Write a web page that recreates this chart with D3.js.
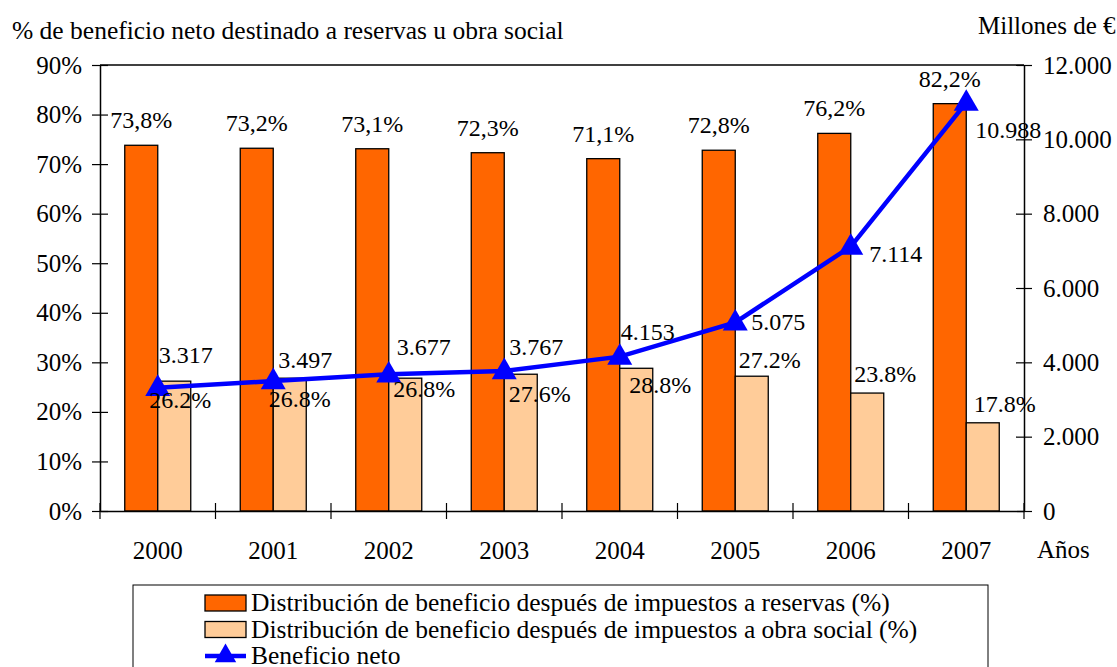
<!DOCTYPE html>
<html>
<head>
<meta charset="utf-8">
<script src="https://cdn.jsdelivr.net/npm/d3@7"></script>
<style>
  body { margin: 0; background: #fff; overflow: hidden; }
  svg text { fill: #000; }
</style>
</head>
<body>
<div id="chart"></div>
<script>
// Data
var years = ["2000", "2001", "2002", "2003", "2004", "2005", "2006", "2007"];
var reservas = [73.8, 73.2, 73.1, 72.3, 71.1, 72.8, 76.2, 82.2];
var obraSocial = [26.2, 26.8, 26.8, 27.6, 28.8, 27.2, 23.8, 17.8];
var beneficio = [3317, 3497, 3677, 3767, 4153, 5075, 7114, 10988];
var leftTicks = [0, 10, 20, 30, 40, 50, 60, 70, 80, 90];
var rightTicks = [0, 2000, 4000, 6000, 8000, 10000, 12000];

// hand-placed label nudges (as in the original)
var obraLabelOff = [[6, 27], [10, 29], [19, 19], [19, 28], [24, 25], [18, -8], [18, -11], [22, -11]];
var lineLabelOff = [[28, -25], [32, -13], [35, -19], [32, -16], [28, -17], [43, 8], [45, 15], [42, 35]];

var FONT = "'Liberation Serif', 'DejaVu Serif', serif";

var svgWidth = 1117, svgHeight = 667;
var margin = { top: 65, right: 93, bottom: 156, left: 100 };
var chartWidth = svgWidth - margin.left - margin.right;
var chartHeight = svgHeight - margin.top - margin.bottom;

var svg = d3.select("#chart").append("svg")
  .attr("width", svgWidth)
  .attr("height", svgHeight)
  .attr("font-family", FONT);

var g = svg.append("g").attr("transform", `translate(${margin.left}, ${margin.top})`);

var x0 = d3.scaleBand().domain(years).range([0, chartWidth]);
var x1 = d3.scaleBand().domain(["res", "obra"]).range([0, x0.bandwidth()]).paddingInner(0).paddingOuter(0.75);
var yLeft = d3.scaleLinear().domain([0, 90]).range([chartHeight, 0]);
var yRight = d3.scaleLinear().domain([0, 12000]).range([chartHeight, 0]);

var fmtThousands = d3.formatLocale({ decimal: ",", thousands: ".", grouping: [3], currency: ["", "€"] }).format(",");

// top border
g.append("line").attr("x1", 0).attr("x2", chartWidth).attr("y1", 0).attr("y2", 0)
  .attr("stroke", "#000").attr("stroke-width", 1.5);

// bars
var rows = years.map(function(y, i) { return { year: y, res: reservas[i], obra: obraSocial[i], ben: beneficio[i], i: i }; });

g.selectAll(".bar-res").data(rows).enter().append("rect")
  .attr("x", function(d) { return x0(d.year) + x1("res"); })
  .attr("y", function(d) { return yLeft(d.res); })
  .attr("width", x1.bandwidth())
  .attr("height", function(d) { return chartHeight - yLeft(d.res); })
  .attr("fill", "#FF6600").attr("stroke", "#000").attr("stroke-width", 1.3);

g.selectAll(".bar-obra").data(rows).enter().append("rect")
  .attr("x", function(d) { return x0(d.year) + x1("obra"); })
  .attr("y", function(d) { return yLeft(d.obra); })
  .attr("width", x1.bandwidth())
  .attr("height", function(d) { return chartHeight - yLeft(d.obra); })
  .attr("fill", "#FFCC99").attr("stroke", "#000").attr("stroke-width", 1.3);

// line
var cx = function(d) { return x0(d.year) + x0.bandwidth() / 2; };
var line = d3.line().x(cx).y(function(d) { return yRight(d.ben); });

g.append("path").datum(rows).attr("d", line)
  .attr("fill", "none").attr("stroke", "#0000FF").attr("stroke-width", 4.5);

var tri = d3.symbol().type(d3.symbolTriangle).size(270);
g.selectAll(".mark").data(rows).enter().append("path")
  .attr("d", tri)
  .attr("transform", function(d) { return `translate(${cx(d)}, ${yRight(d.ben) + 1})`; })
  .attr("fill", "#0000FF");

// labels
var fs = "24px";
g.selectAll(".lab-res").data(rows).enter().append("text")
  .attr("x", function(d) { return x0(d.year) + x1("res") + x1.bandwidth() / 2; })
  .attr("y", function(d) { return yLeft(d.res) - 17; })
  .attr("text-anchor", "middle").attr("font-size", fs).attr("font-family", FONT)
  .text(function(d) { return d.res.toFixed(1).replace(".", ",") + "%"; });

g.selectAll(".lab-obra").data(rows).enter().append("text")
  .attr("x", function(d) { return x0(d.year) + x1("obra") + x1.bandwidth() / 2 + obraLabelOff[d.i][0]; })
  .attr("y", function(d) { return yLeft(d.obra) + obraLabelOff[d.i][1]; })
  .attr("text-anchor", "middle").attr("font-size", fs).attr("font-family", FONT)
  .text(function(d) { return d.obra.toFixed(1) + "%"; });

g.selectAll(".lab-ben").data(rows).enter().append("text")
  .attr("x", function(d) { return cx(d) + lineLabelOff[d.i][0]; })
  .attr("y", function(d) { return yRight(d.ben) + lineLabelOff[d.i][1]; })
  .attr("text-anchor", "middle").attr("font-size", fs).attr("font-family", FONT)
  .text(function(d) { return fmtThousands(d.ben); });

// axes
var leftAxis = d3.axisLeft(yLeft).tickValues(leftTicks).tickSize(0).tickPadding(18)
  .tickFormat(function(d) { return d + "%"; });
var rightAxis = d3.axisRight(yRight).tickValues(rightTicks).tickSize(0).tickPadding(19)
  .tickFormat(function(d) { return d === 0 ? "0" : fmtThousands(d); });
var bottomAxis = d3.axisBottom(x0).tickSize(0).tickPadding(30);

function styleAxis(sel) {
  sel.attr("font-family", FONT);
  sel.select(".domain").attr("stroke", "#000").attr("stroke-width", 1.5);
  sel.selectAll("text").attr("font-size", "25px").attr("font-family", FONT);
}

var gl = g.append("g").call(leftAxis).call(styleAxis);
gl.selectAll(".tick").append("line").attr("x1", -8).attr("x2", 8).attr("stroke", "#000").attr("stroke-width", 1.2);

var gr = g.append("g").attr("transform", `translate(${chartWidth}, 0)`).call(rightAxis).call(styleAxis);
gr.selectAll(".tick").append("line").attr("x1", -8).attr("x2", 8).attr("stroke", "#000").attr("stroke-width", 1.2);

var gb = g.append("g").attr("transform", `translate(0, ${chartHeight})`).call(bottomAxis).call(styleAxis);
gb.selectAll(".tick text").attr("dy", "0.71em");
// category boundary ticks
gb.selectAll(".sep").data(d3.range(years.length + 1)).enter().append("line")
  .attr("x1", function(i) { return i * x0.step(); })
  .attr("x2", function(i) { return i * x0.step(); })
  .attr("y1", -8).attr("y2", 8)
  .attr("stroke", "#000").attr("stroke-width", 1.2);

// titles
svg.append("text").attr("x", 12).attr("y", 39).attr("font-size", "25.5px").attr("font-family", FONT)
  .text("% de beneficio neto destinado a reservas u obra social");
svg.append("text").attr("x", 978).attr("y", 34).attr("font-size", "25px").attr("font-family", FONT)
  .text("Millones de €");
svg.append("text").attr("x", 1037).attr("y", 558).attr("font-size", "25px").attr("font-family", FONT)
  .text("Años");

// legend
var lg = svg.append("g").attr("transform", "translate(133, 585)");
lg.append("rect").attr("x", 0).attr("y", 0).attr("width", 855).attr("height", 100)
  .attr("fill", "#fff").attr("stroke", "#000").attr("stroke-width", 1);

var legendItems = [
  { label: "Distribución de beneficio después de impuestos a reservas (%)", type: "rect", color: "#FF6600" },
  { label: "Distribución de beneficio después de impuestos a obra social (%)", type: "rect", color: "#FFCC99" },
  { label: "Beneficio neto", type: "line", color: "#0000FF" }
];
legendItems.forEach(function(it, i) {
  var yy = 18 + i * 26.5;
  if (it.type === "rect") {
    lg.append("rect").attr("x", 72).attr("y", yy - 8).attr("width", 41).attr("height", 16)
      .attr("fill", it.color).attr("stroke", "#000").attr("stroke-width", 1.3);
  } else {
    lg.append("line").attr("x1", 72).attr("x2", 113).attr("y1", yy).attr("y2", yy)
      .attr("stroke", it.color).attr("stroke-width", 4.5);
    lg.append("path").attr("d", d3.symbol().type(d3.symbolTriangle).size(200))
      .attr("transform", `translate(92.5, ${yy})`).attr("fill", it.color);
  }
  lg.append("text").attr("x", 118).attr("y", yy + 8).attr("font-size", "25.5px").attr("font-family", FONT).text(it.label);
});
</script>
</body>
</html>
